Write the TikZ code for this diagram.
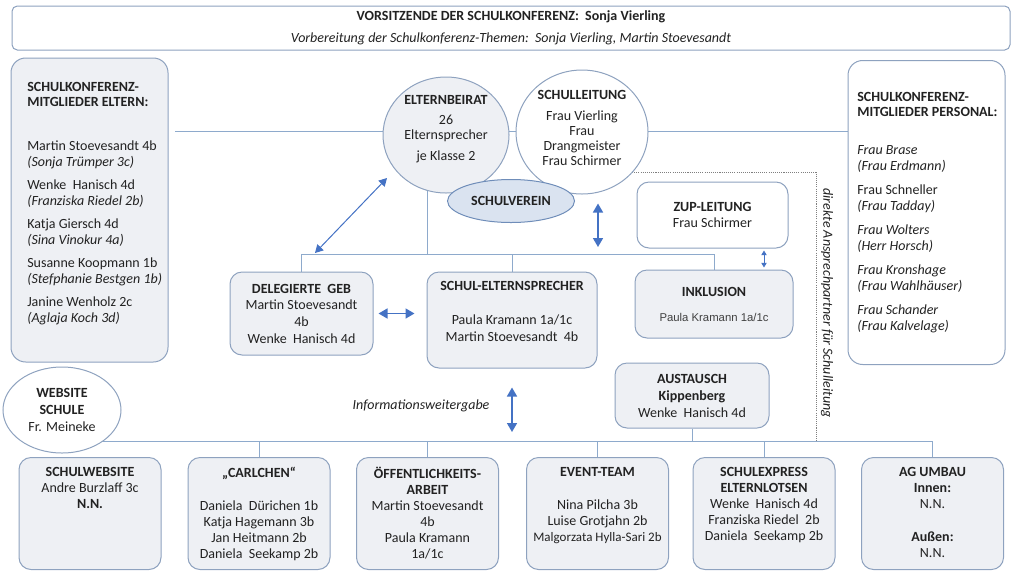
\documentclass[tikz,border=0pt]{standalone}
\usepackage{fontspec}
\setmainfont{Carlito}
\newfontfamily\arialfont{Liberation Sans}
\usetikzlibrary{arrows.meta,shapes.geometric,backgrounds}
\definecolor{boxline}{HTML}{8EA2BF}
\definecolor{boxfill}{HTML}{EEF0F4}
\definecolor{wirecol}{HTML}{8EAACC}
\definecolor{arrowcol}{HTML}{4472C4}
\definecolor{vereinfill}{HTML}{DAE3F0}
\definecolor{vereinline}{HTML}{6F8DB9}
\definecolor{textcol}{HTML}{222222}
\definecolor{dotcol}{HTML}{7F7F7F}

\begin{document}
\begin{tikzpicture}[x=0.75pt,y=-0.75pt,
		font=\fontsize{10.5}{12}\selectfont, text=textcol,
		graybox/.style={draw=boxline,fill=boxfill,line width=0.75pt,rounded corners=9pt,align=center,inner sep=0pt},
		whitebox/.style={graybox,fill=white},
		circ/.style={ellipse,draw=boxline,line width=0.75pt,align=center,inner sep=0pt},
		lbl/.style={align=center,anchor=north,inner sep=0pt,execute at begin node=\strut},
		lbll/.style={align=left,anchor=north west,inner sep=0pt,execute at begin node=\strut},
		wire/.style={draw=wirecol,line width=0.75pt},
		dots/.style={draw=dotcol,line width=0.5pt,dash pattern=on 0.8pt off 0.8pt},
		twoway/.style={arrowcol,line width=1.2pt,{Triangle[width=7.5pt,length=6.75pt]}-{Triangle[width=7.5pt,length=6.75pt]}},
		twowaythin/.style={arrowcol,line width=0.75pt,{Triangle[width=6.5pt,length=6pt]}-{Triangle[width=6.5pt,length=6pt]}},
		twowaysmall/.style={arrowcol,line width=0.6pt,{Triangle[width=4pt,length=3.5pt]}-{Triangle[width=4pt,length=3.5pt]}}]
	\useasboundingbox (0,0) rectangle (1024,576);

	% Kopfzeile
	\node[whitebox,rounded corners=4pt,minimum width=748.5pt,minimum height=33pt] (vors) at (511,28)
		{\textbf{VORSITZENDE DER SCHULKONFERENZ:\ \ Sonja Vierling}\\[4.5pt]\textit{Vorbereitung der Schulkonferenz-Themen:\ \ Sonja Vierling, Martin Stoevesandt}};

	% Schulkonferenz links und rechts
	\node[graybox,rounded corners=11pt,minimum width=117.75pt,minimum height=228pt] (eltern) at (89.5,210) {};
	\node[lbll] (eltern-kopf) at (27,82) {\textbf{SCHULKONFERENZ-}\\[-0.75pt]\textbf{MITGLIEDER ELTERN:}};
	\node[lbll] (eltern-namen) at (27,141) {Martin Stoevesandt 4b\\\textit{(Sonja Trümper 3c)}\\[5.25pt]
		Wenke\ \ Hanisch 4d\\\textit{(Franziska Riedel\ 2b)}\\[5.25pt]
		Katja Giersch 4d\\\textit{(Sina Vinokur 4a)}\\[5.25pt]
		Susanne Koopmann 1b\\\textit{(Stefphanie Bestgen 1b)}\\[5.25pt]
		Janine Wenholz 2c\\\textit{(Aglaja Koch 3d)}};

	\node[whitebox,rounded corners=11pt,minimum width=117.75pt,minimum height=228pt] (personal) at (926.5,212.5) {};
	\node[lbll] (personal-kopf) at (857,92) {\textbf{SCHULKONFERENZ-}\\[-0.75pt]\textbf{MITGLIEDER PERSONAL:}};
	\node[lbll] (personal-namen) at (857,145) {\textit{Frau Brase}\\\textit{(Frau Erdmann)}\\[6pt]
		Frau Schneller\\\textit{(Frau Tadday)}\\[6pt]
		\textit{Frau Wolters}\\\textit{(Herr Horsch)}\\[6pt]
		\textit{Frau Kronshage}\\\textit{(Frau Wahlhäuser)}\\[6pt]
		\textit{Frau Schander}\\\textit{(Frau Kalvelage)}};

	% Elternbeirat, Schulleitung, Schulverein
	\node[circ,fill=boxfill,minimum width=94.5pt,minimum height=87pt] (beirat) at (446,135) {};
	\node[lbl] (beirat-text) at (446,95) {\textbf{ELTERNBEIRAT}\\[3pt]26\\[-0.75pt]Elternsprecher\\[3.75pt]je Klasse 2};
	\node[circ,fill=white,minimum width=99pt,minimum height=93pt] (leitung) at (582,132) {};
	\node[lbl] (leitung-text) at (582,90) {\textbf{SCHULLEITUNG}\\[3.75pt]Frau Vierling\\[-0.75pt]Frau\\[-0.75pt]Drangmeister\\[-0.75pt]Frau Schirmer};
	\node[circ,draw=vereinline,fill=vereinfill,minimum width=95.25pt,minimum height=32.25pt] (verein) at (511,201) {\textbf{SCHULVEREIN}};

	% mittlere Reihe
	\node[whitebox,minimum width=113.25pt,minimum height=49.5pt] (zup) at (712.5,215) {\textbf{ZUP-LEITUNG}\\Frau Schirmer};
	\node[graybox,minimum width=118.5pt,minimum height=51pt] (inkl) at (714,304)
		{\textbf{INKLUSION}\\[6.75pt]{\arialfont\fontsize{8.5}{12}\selectfont\color{black!75}Paula Kramann 1a/1c}};
	\node[graybox,minimum width=107.25pt,minimum height=62.25pt] (deleg) at (301.5,313.5)
		{\textbf{DELEGIERTE\ \ GEB}\\[0.5pt]Martin Stoevesandt\\[0.5pt]4b\\[0.5pt]Wenke\ \ Hanisch 4d};
	\node[graybox,minimum width=127.5pt,minimum height=72pt] (elt) at (512,320) {};
	\node[lbl] (elt-text) at (512,281) {\textbf{SCHUL-ELTERNSPRECHER}\\[13.5pt]Paula Kramann 1a/1c\\[0.75pt]Martin Stoevesandt\ \ 4b};
	\node[graybox,minimum width=115.5pt,minimum height=48.75pt] (aust) at (692,395.5)
		{\textbf{AUSTAUSCH}\\[0.75pt]\textbf{Kippenberg}\\[0.75pt]Wenke\ \ Hanisch 4d};
	\node[circ,fill=white,minimum width=88.5pt,minimum height=64.5pt] (website) at (62,410)
		{\textbf{WEBSITE}\\[0.75pt]\textbf{SCHULE}\\[0.75pt]Fr. Meineke};
	\node[inner sep=0pt] (info) at (421,406) {\textit{Informationsweitergabe}};
	\node[rotate=-90,inner sep=0pt] (ansp) at (827,303) {\textit{direkte Ansprechpartner für Schulleitung}};

	% untere Reihe
	\foreach \n/\x in {web/90,carl/259,oeff/427.5,event/597.5,sexp/764,agu/932.5}
		\node[graybox,minimum width=106.5pt,minimum height=84pt] (\n) at (\x,513.5) {};
	\node[lbl] (web-text) at ([yshift=-7.35pt]web.north) {\textbf{SCHULWEBSITE}\\Andre Burzlaff 3c\\\textbf{N.N.}};
	\node[lbl] (carl-text) at ([yshift=-7.35pt]carl.north) {\textbf{„CARLCHEN“}\\[12.75pt]Daniela\ \ Dürichen 1b\\Katja Hagemann 3b\\Jan Heitmann 2b\\Daniela\ \ Seekamp 2b};
	\node[lbl] (oeff-text) at ([yshift=-7.35pt]oeff.north) {\textbf{ÖFFENTLICHKEITS-}\\\textbf{ARBEIT}\\Martin Stoevesandt\\4b\\Paula Kramann\\1a/1c};
	\node[lbl] (event-text) at ([yshift=-7.35pt]event.north) {\textbf{EVENT-TEAM}\\[12.75pt]Nina Pilcha 3b\\Luise Grotjahn 2b\\{\fontsize{9.75}{12}\selectfont Malgorzata Hylla-Sari 2b}};
	\node[lbl] (sexp-text) at ([yshift=-7.35pt]sexp.north) {\textbf{SCHULEXPRESS}\\\textbf{ELTERNLOTSEN}\\Wenke\ \ Hanisch 4d\\Franziska Riedel\ \ 2b\\Daniela\ \ Seekamp 2b};
	\node[lbl] (agu-text) at ([yshift=-7.35pt]agu.north) {\textbf{AG UMBAU}\\\textbf{Innen:}\\N.N.\\[12.75pt]\textbf{Außen:}\\N.N.};

	% Verbindungslinien
	\coordinate (konf-l) at (175,131);
	\coordinate (mbus) at (0,254);
	\coordinate (bbus) at (0,441);
	\coordinate (beirat-fuss) at (427,254);
	\coordinate (ansp-start) at (600,172);
	\coordinate (ansp-ende) at (816,441);
	\begin{scope}[on background layer]
		\draw[wire] (konf-l) -- (personal.west |- konf-l);
		\draw[wire] (beirat-fuss) -- (beirat-fuss |- beirat.center);
		\draw[wire] (deleg.north) |- (mbus -| inkl.north) -- (inkl.north);
		\draw[wire] (elt.north) -- (elt.north |- mbus);
		\draw[wire] (website.center |- bbus) -- (agu.north |- bbus);
		\draw[wire] (aust.south) -- (aust.south |- bbus);
		\foreach \n in {carl,oeff,event,sexp,agu}
			\draw[wire] (\n.north) -- (\n.north |- bbus);
		\draw[dots] (ansp-start) -| (ansp-ende);
	\end{scope}

	% Pfeile
	\coordinate (diag-a) at (387,178);
	\coordinate (diag-b) at (315,253);
	\coordinate (sl-pfeil) at (598,0);
	\coordinate (zup-pfeil) at (764,0);
	\draw[twowaythin] (diag-a) -- (diag-b);
	\draw[twoway,shorten <=6.75pt,shorten >=5.25pt] (leitung.south -| sl-pfeil) -- (mbus -| sl-pfeil);
	\draw[twoway,shorten <=3.75pt,shorten >=9pt] (deleg.east) -- (elt.west |- deleg.east);
	\draw[twoway,shorten <=14.25pt,shorten >=6.75pt] (elt.south) -- (elt.south |- bbus);
	\draw[twowaysmall,shorten <=1.5pt,shorten >=1.5pt] (zup.south -| zup-pfeil) -- (inkl.north -| zup-pfeil);
\end{tikzpicture}
\end{document}
